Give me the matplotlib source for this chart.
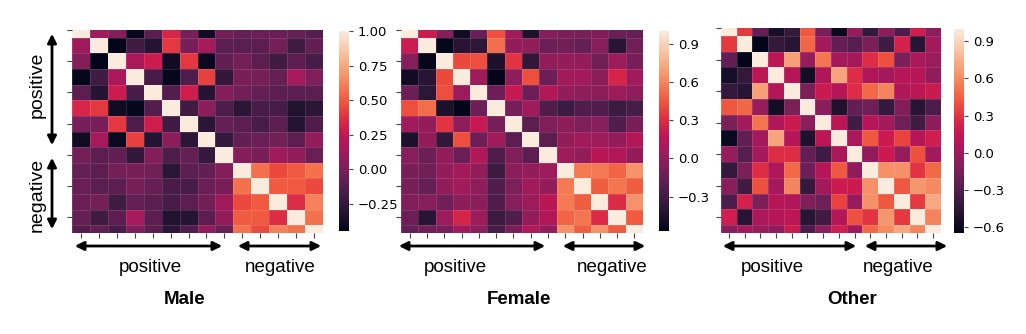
import numpy as np
import matplotlib
matplotlib.use("Agg")
import matplotlib.pyplot as plt
import seaborn as sns

# upper triangles (row i holds columns i+1 .. 13) of the three 14x14 correlation matrices
male_upper = [
    [0.12, 0.04, -0.42, -0.10, 0.33, 0.00, -0.38, -0.02, -0.07, -0.05, -0.05, -0.07, -0.12],
    [-0.445, -0.20, -0.30, 0.40, 0.00, 0.15, -0.10, -0.10, -0.10, -0.02, -0.20, -0.08],
    [0.17, 0.28, -0.38, 0.40, -0.40, -0.08, -0.02, -0.10, -0.20, -0.10, -0.17],
    [-0.17, -0.42, -0.15, 0.42, -0.25, 0.00, 0.00, -0.07, 0.15, 0.02],
    [-0.13, 0.30, -0.30, 0.04, -0.03, -0.07, -0.10, -0.10, -0.10],
    [-0.20, 0.06, -0.15, -0.28, -0.17, -0.17, -0.32, -0.28],
    [-0.28, -0.07, -0.10, -0.17, -0.10, -0.30, -0.15],
    [-0.24, -0.08, -0.05, -0.03, -0.10, 0.08],
    [0.04, 0.00, 0.12, 0.09, -0.05],
    [0.57, 0.45, 0.50, 0.57],
    [0.50, 0.50, 0.45],
    [0.36, 0.62],
    [0.57],
]
female_upper = [
    [0.22, -0.04, -0.50, -0.14, 0.42, 0.06, -0.45, -0.04, -0.09, -0.09, -0.06, -0.14, -0.16],
    [-0.55, -0.40, -0.38, 0.52, 0.01, 0.01, -0.14, -0.12, -0.16, -0.04, -0.40, -0.12],
    [0.40, 0.42, -0.45, 0.33, -0.36, 0.01, 0.01, 0.01, -0.12, 0.04, -0.09],
    [0.04, -0.57, -0.01, 0.42, -0.14, 0.06, 0.06, -0.02, 0.27, 0.06],
    [-0.14, 0.20, -0.14, 0.12, 0.01, -0.01, -0.02, 0.04, -0.01],
    [-0.09, 0.06, -0.24, -0.32, -0.24, -0.24, -0.32, -0.28],
    [-0.19, -0.06, -0.02, -0.07, -0.04, -0.24, -0.09],
    [-0.19, 0.01, 0.06, 0.04, 0.01, 0.12],
    [0.04, 0.01, 0.15, 0.12, 0.01],
    [0.56, 0.56, 0.49, 0.65],
    [0.47, 0.55, 0.47],
    [0.30, 0.65],
    [0.46],
]
other_upper = [
    [0.32, -0.23, -0.55, -0.42, 0.42, -0.13, -0.60, -0.03, -0.42, -0.08, -0.32, 0.19, -0.08],
    [-0.65, -0.42, -0.47, 0.47, 0.02, -0.23, -0.28, -0.13, -0.37, 0.22, -0.47, 0.02],
    [0.12, 0.68, -0.03, 0.52, 0.02, 0.02, 0.27, 0.40, -0.13, 0.05, -0.01],
    [0.09, -0.57, 0.07, 0.70, 0.27, 0.07, 0.02, 0.09, 0.09, -0.05],
    [-0.13, 0.17, 0.09, 0.27, 0.48, 0.58, 0.07, 0.12, 0.17],
    [-0.08, -0.52, -0.23, -0.18, -0.42, -0.11, -0.47, -0.32],
    [0.12, -0.37, 0.09, 0.02, -0.18, -0.37, -0.08],
    [0.05, 0.42, 0.17, 0.35, 0.09, 0.19],
    [-0.05, 0.17, -0.03, 0.40, 0.02],
    [0.62, 0.62, 0.30, 0.48],
    [0.42, 0.65, 0.60],
    [0.32, 0.72],
    [0.58],
]

titles = ["Male", "Female", "Other"]
cbar_ticks = [
    [-0.25, 0.0, 0.25, 0.5, 0.75, 1.0],
    [-0.3, 0.0, 0.3, 0.6, 0.9],
    [-0.6, -0.3, 0.0, 0.3, 0.6, 0.9],
]


def full_matrix(upper):
    n = len(upper) + 1
    m = np.eye(n)
    for i, row in enumerate(upper):
        m[i, i + 1:] = row
        m[i + 1:, i] = row
    return m


mats = [full_matrix(male_upper), full_matrix(female_upper), full_matrix(other_upper)]

W, H = 1026, 334
fig = plt.figure(figsize=(W / 100, H / 100), dpi=100)


def fx(x):
    return x / W


def fy(y):
    return 1 - y / H


def box(x0, y0, x1, y1):
    return [fx(x0), fy(y1), fx(x1) - fx(x0), fy(y0) - fy(y1)]


# pixel boxes of heatmaps and colorbars (x0, y0, x1, y1)
hm_boxes = [(72, 30, 323, 233), (401, 30, 643, 233), (721, 28, 941, 233)]
cb_boxes = [(339, 31, 349, 231), (659, 31, 669, 231), (954, 29, 964, 233)]

helv = ["Liberation Sans", "DejaVu Sans"]

for k in range(3):
    ax = fig.add_axes(box(*hm_boxes[k]))
    cax = fig.add_axes(box(*cb_boxes[k]))
    m = mats[k]
    sns.heatmap(m, ax=ax, cbar_ax=cax, cmap="rocket", vmin=m.min(), vmax=1.0,
                linewidths=0.4, linecolor=(1, 1, 1, 0.12))
    ax.set_xticklabels([])
    ax.set_yticklabels([])
    n = m.shape[0]
    ax.set_ylim(n - 0.5, 0.5)   # first and last rows shown half-cut, as in the original
    ax.tick_params(length=3.5, width=0.8, color="#444444")
    cax.set_yticks(cbar_ticks[k])
    cax.tick_params(labelsize=9.5, length=3, width=0.8, color="#444444")


def arrow(x0, y0, x1, y1):
    fig.add_artist(plt.matplotlib.patches.FancyArrowPatch(
        (fx(x0), fy(y0)), (fx(x1), fy(y1)), transform=fig.transFigure,
        arrowstyle="<|-|>", mutation_scale=13, lw=2, color="black"))


# vertical arrows and labels on the left
arrow(52, 31, 52, 148)
arrow(52, 155, 52, 232)
fig.text(fx(37), fy(85), "positive", rotation=90, ha="center", va="center",
         fontsize=14, family=helv)
fig.text(fx(37), fy(195), "negative", rotation=90, ha="center", va="center",
         fontsize=14, family=helv)

# horizontal arrows and labels below each heatmap
h_arrows = [((72, 225), (235, 324)), ((396, 548), (560, 648)), ((720, 859), (862, 950))]
pos_x = [150, 455, 772]
neg_x = [280, 612, 898]
title_x = [185, 519, 852]
for k in range(3):
    (a0, a1), (b0, b1) = h_arrows[k]
    arrow(a0, 246, a1, 246)
    arrow(b0, 246, b1, 246)
    fig.text(fx(pos_x[k]), fy(268), "positive", ha="center", va="center",
             fontsize=13.5, family=helv)
    fig.text(fx(neg_x[k]), fy(268), "negative", ha="center", va="center",
             fontsize=13.5, family=helv)
    fig.text(fx(title_x[k]), fy(299), titles[k], ha="center", va="center",
             fontsize=13.5, fontweight="bold", family=helv)

fig.savefig("out.png", dpi=100)
